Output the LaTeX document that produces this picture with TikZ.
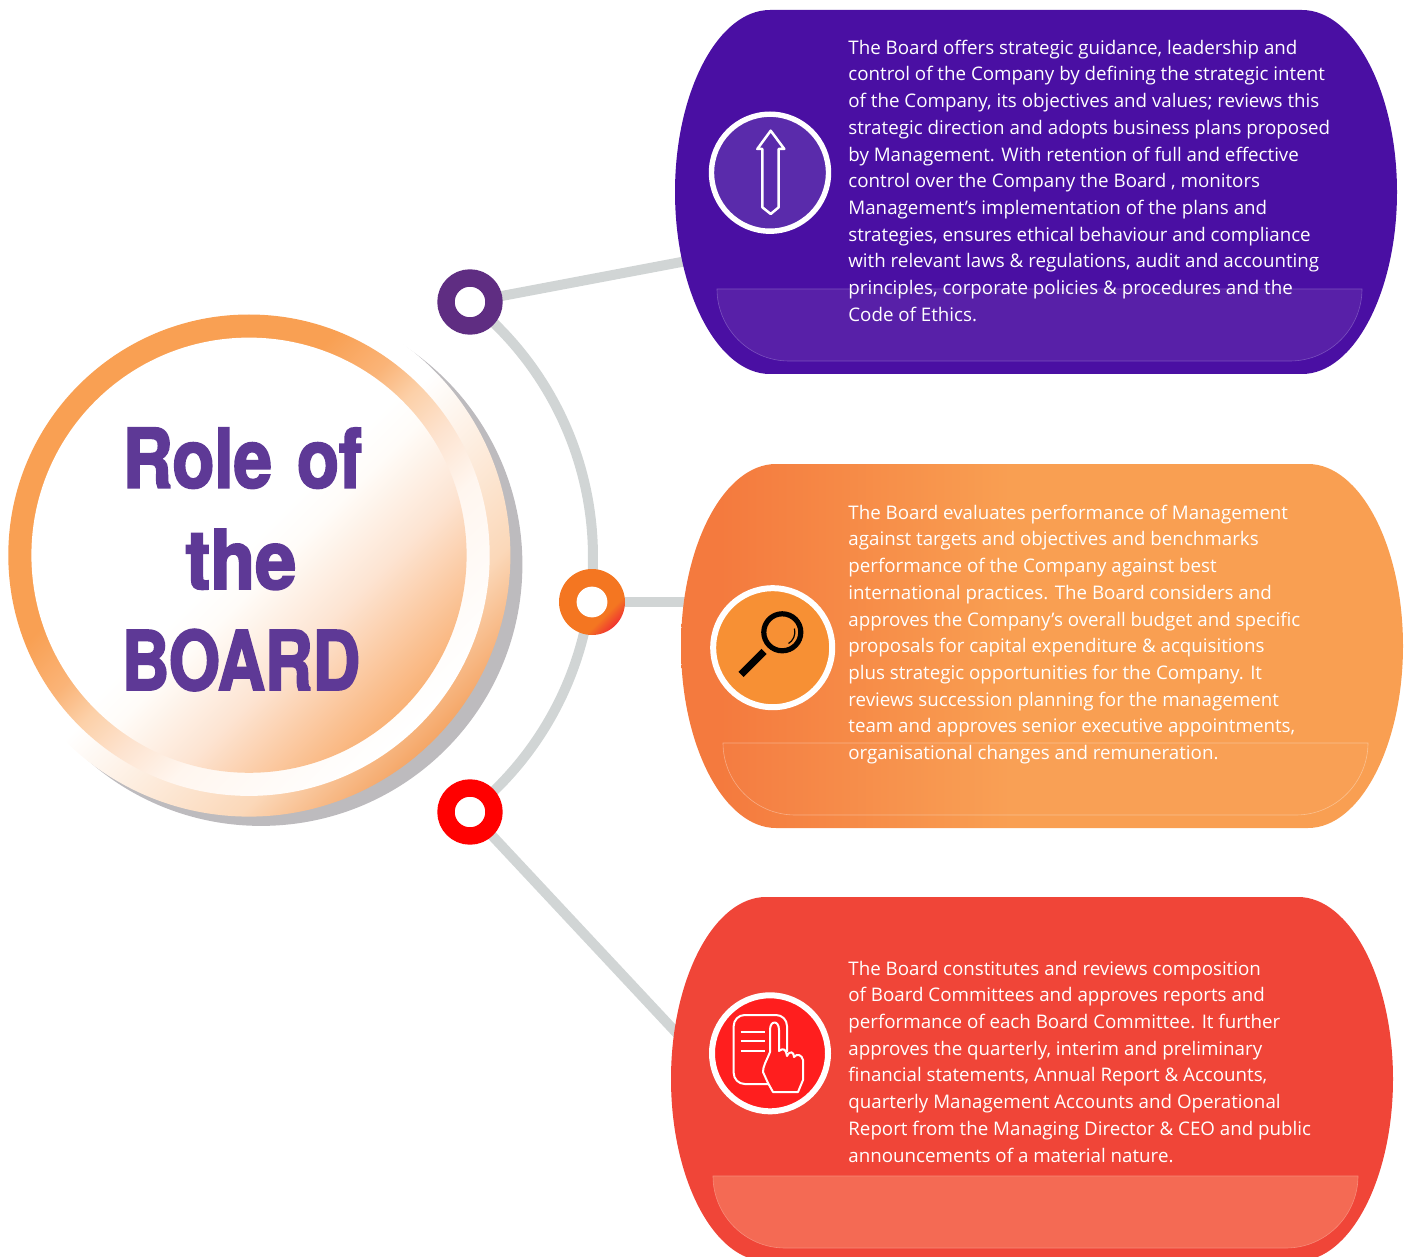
\documentclass[tikz,border=0pt]{standalone}
\usepackage{fontspec}
\setmainfont{Open Sans}
\newfontfamily\titlefont[FakeStretch=0.84,FakeBold=2.4]{TeX Gyre Heros Bold}
\definecolor{linegrey}{HTML}{D1D5D5}
\definecolor{shadowgrey}{HTML}{BDBBBE}
\definecolor{titlepurple}{HTML}{5E3996}
\definecolor{dotpurple}{HTML}{5F2D82}
\definecolor{panelA}{HTML}{4A0FA3}
\definecolor{bandA}{HTML}{5820A8}
\definecolor{edgeA}{HTML}{7A50BE}
\definecolor{iconA}{HTML}{5A2BAB}
\definecolor{panelBl}{HTML}{F47A3E}
\definecolor{panelBr}{HTML}{F99F52}
\definecolor{iconB}{HTML}{F79034}
\definecolor{panelC}{HTML}{F04538}
\definecolor{bandC}{HTML}{F46A54}
\definecolor{edgeC}{HTML}{F78A78}
\definecolor{iconC}{HTML}{FF1E1E}
\definecolor{oa}{HTML}{F5A768}
\definecolor{ob}{HTML}{FBD8B9}
\definecolor{ma}{HTML}{FFF6EF}
\definecolor{mb}{HTML}{FDE3CF}
\definecolor{mc}{HTML}{FCD0A8}
\definecolor{md}{HTML}{FAB478}
\definecolor{me}{HTML}{F9A053}
\definecolor{ia}{HTML}{F9B277}
\definecolor{ib}{HTML}{FDE4D2}
\definecolor{ic}{HTML}{FFFCF8}
\definecolor{da}{HTML}{F0392F}
\definecolor{db}{HTML}{F47621}
\pgfdeclareverticalshading{outerdisc}{100bp}{color(0bp)=(oa);color(25bp)=(oa);color(33bp)=(ob);color(50bp)=(white);color(100bp)=(white)}
\pgfdeclareverticalshading{midring}{100bp}{color(0bp)=(white);color(25bp)=(white);color(39bp)=(ma);color(45bp)=(mb);color(50bp)=(mc);color(54bp)=(md);color(60bp)=(me);color(100bp)=(me)}
\pgfdeclareverticalshading{innerdisc}{100bp}{color(0bp)=(ia);color(25bp)=(ia);color(38bp)=(ib);color(47bp)=(ic);color(51bp)=(white);color(100bp)=(white)}
\pgfdeclarehorizontalshading{orangepanel}{100bp}{color(0bp)=(panelBl);color(27.7bp)=(panelBl);color(47.8bp)=(panelBr);color(100bp)=(panelBr)}
\pgfdeclareverticalshading{dotring}{100bp}{color(0bp)=(da);color(26bp)=(da);color(36bp)=(db);color(100bp)=(db)}
\tikzset{
  x=0.5pt,y=-0.5pt,
  connector/.style={draw=linegrey,line width=5pt},
  ringdot/.style={circle,draw=#1,fill=white,line width=8.7pt,minimum size=24pt,inner sep=0pt},
  holedot/.style={circle,fill=white,minimum size=15.4pt,inner sep=0pt},
  iconcircle/.style={circle,draw=white,inner sep=0pt},
  bodytext/.style={anchor=north west,align=left,text=white,inner sep=0pt,font=\fontsize{9.37}{13.35}\selectfont},
  titletext/.style={anchor=base,text=titlepurple,inner sep=0pt,font=\titlefont\fontsize{41}{50.5}\selectfont},
  iconline/.style={draw=white,line width=1pt,line join=round},
  panelAstyle/.style={fill=panelA},
  panelBstyle/.style={shade,shading=orangepanel},
  panelCstyle/.style={fill=panelC},
  bandAstyle/.style={fill=bandA,draw=edgeA},
  bandBstyle/.style={fill=white,fill opacity=0.02,draw=white,draw opacity=0.35},
  bandCstyle/.style={fill=bandC,draw=edgeC},
}
\newcommand{\boardpanel}[4]{%
  \path[#3] (#1+95,#2) -- (#1+627,#2)
    .. controls (#1+679,#2) and (#1+722,#2+82) .. (#1+722,#2+182)
    .. controls (#1+722,#2+282) and (#1+679,#2+364) .. (#1+627,#2+364)
    -- (#1+95,#2+364)
    .. controls (#1+43,#2+364) and (#1,#2+282) .. (#1,#2+182)
    .. controls (#1,#2+82) and (#1+43,#2) .. (#1+95,#2) -- cycle;
  \path[#4,line width=0.3pt] (#1+42,#2+279) -- (#1+687,#2+279)
    .. controls (#1+687,#2+318) and (#1+655,#2+351) .. (#1+615,#2+351)
    -- (#1+114,#2+351)
    .. controls (#1+74,#2+351) and (#1+42,#2+318) .. (#1+42,#2+279) -- cycle;
}
\begin{document}
\begin{tikzpicture}
\useasboundingbox (0,0) rectangle (1404,1257);
\coordinate (p1) at (692,260);
\coordinate (p2) at (692,602);
\coordinate (p3) at (685,1042);
\coordinate (arcstart) at (470,302);
% big circle
\fill[shadowgrey] (261,564.5) circle (261.4);
\path[shade,shading=outerdisc,shading angle=45] (249,555.2) circle (261.4);
\path[shade,shading=midring,shading angle=45] (249,555.2) circle (240.7);
\path[shade,shading=innerdisc,shading angle=45] (249,555.2) circle (217.6);
% connectors
\draw[connector] (arcstart) arc[start angle=-51.5,end angle=51.5,radius=325.8];
\coordinate (dot1c) at (470,302);
\coordinate (dot2c) at (592,602);
\coordinate (dot3c) at (470,812);
\draw[connector] (dot1c) -- (p1);
\draw[connector] (dot2c) -- (p2);
\draw[connector] (dot3c) -- (p3);
% dots
\node[ringdot=dotpurple] (dot1) at (dot1c) {};
\path[shade,shading=dotring,shading angle=45] (dot2c) circle (33);
\node[holedot] (dot2) at (dot2c) {};
\node[ringdot=red] (dot3) at (dot3c) {};
% panels
\boardpanel{675}{10}{panelAstyle}{bandAstyle}
\boardpanel{681}{464}{panelBstyle}{bandBstyle}
\boardpanel{671}{897}{panelCstyle}{bandCstyle}
% icon 1
\node[iconcircle,fill=iconA,line width=2.7pt,minimum size=58.5pt] (icon1) at (770,172.7) {};
\draw[iconline,line width=1.25pt] (770.7,130.7) -- (784.3,149) -- (778.7,149) -- (778.7,207.3) -- (770.7,214) -- (762.3,207.3) -- (762.3,149) -- (757.3,149) -- cycle;
% icon 2
\node[iconcircle,fill=iconB,line width=3pt,minimum size=59.5pt] (icon2) at (772.7,647.7) {};
\draw[black,line width=2.6pt] (782.3,632.3) circle (18.5);
\draw[black,line width=3.6pt] (764,651.5) -- (741,674.5);
\draw[black,line width=0.6pt] (788.5,643.5) .. controls (793,641) and (796,635) .. (794.5,628.5);
% icon 3
\node[iconcircle,fill=iconC,line width=3pt,minimum size=58pt] (icon3) at (770,1053.3) {};
\draw[iconline,rounded corners=5.5pt] (787,1052) -- (787,1015) -- (733.7,1015) -- (733.7,1084) -- (768,1084);
\draw[iconline] (740.7,1031.7) -- (765.3,1031.7) (740.7,1041.3) -- (765.3,1041.3) (740.7,1051) -- (765.3,1051);
\path[iconline,fill=iconC] (770,1052) -- (770,1030) .. controls (770,1020) and (779,1020) .. (779,1030) -- (779,1051)
  .. controls (784,1047) and (786,1050) .. (787,1056) .. controls (790,1050) and (794,1052) .. (794,1057)
  .. controls (797,1053) and (802,1055) .. (803,1060) -- (803,1080) -- (798,1092) -- (773,1092)
  -- (768,1083) -- (763,1072) .. controls (763,1066) and (766,1062) .. (770,1052) -- cycle;
% title
\node[titletext] (t1) at (242.5,487.7) {Role\hspace{3pt} of};
\node[titletext,xscale=1.07] (t2) at (241,589) {the};
\node[titletext,xscale=0.955] (t3) at (241,690) {BOARD};
% texts
\node[bodytext] (text1) at (848,39.5) {The Board offers strategic guidance, leadership and\\control of the Company by defining the strategic intent\\of the Company, its objectives and values; reviews this\\strategic direction and adopts business plans proposed\\by Management. With retention of full and effective\\control over the Company the Board , monitors\\Management’s implementation of the plans and\\strategies, ensures ethical behaviour and compliance\\with relevant laws \& regulations, audit and accounting\\principles, corporate policies \& procedures and the\\Code of Ethics.};
\node[bodytext] (text2) at (848,504.5) {The Board evaluates performance of Management\\against targets and objectives and benchmarks\\performance of the Company against best\\international practices. The Board considers and\\approves the Company’s overall budget and specific\\proposals for capital expenditure \& acquisitions\\plus strategic opportunities for the Company. It\\reviews succession planning for the management\\team and approves senior executive appointments,\\organisational changes and remuneration.};
\node[bodytext] (text3) at (848,960.5) {The Board constitutes and reviews composition\\of Board Committees and approves reports and\\performance of each Board Committee. It further\\approves the quarterly, interim and preliminary\\financial statements, Annual Report \& Accounts,\\quarterly Management Accounts and Operational\\Report from the Managing Director \& CEO and public\\announcements of a material nature.};
\end{tikzpicture}
\end{document}
